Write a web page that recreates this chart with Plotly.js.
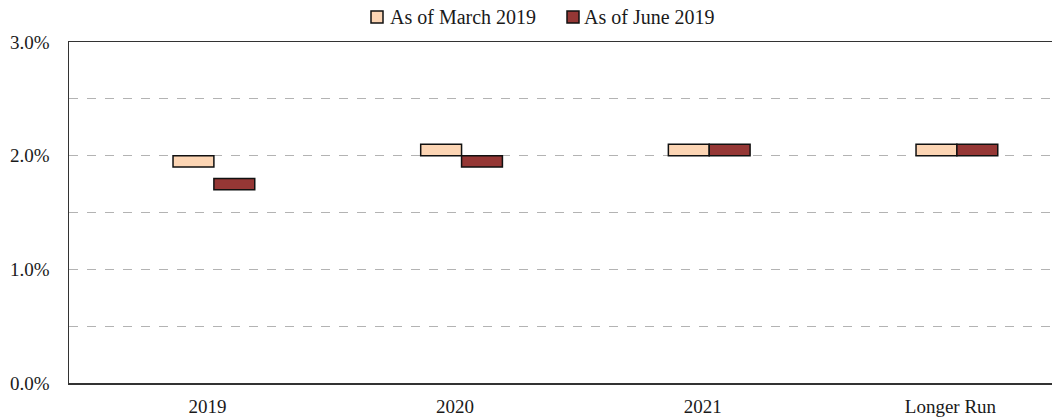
<!DOCTYPE html>
<html>
<head>
<meta charset="utf-8">
<script src="https://cdn.plot.ly/plotly-3.0.1.min.js"></script>
<style>html,body{margin:0;padding:0;overflow:hidden;background:#fff;}</style>
</head>
<body>
<div id="chart" style="width:1052px;height:417px;"></div>
<script>
const categories = ["2019", "2020", "2021", "Longer Run"];
const seriesNames = ["As of March 2019", "As of June 2019"];
const marchLow = [1.9, 2.0, 2.0, 2.0];
const marchHigh = [2.0, 2.1, 2.1, 2.1];
const juneLow = [1.7, 1.9, 2.0, 2.0];
const juneHigh = [1.8, 2.0, 2.1, 2.1];
const yTickVals = [0, 0.5, 1, 1.5, 2, 2.5, 3];
const yTickText = ["0.0%", "", "1.0%", "", "2.0%", "", "3.0%"];

const colors = ["#FCD5B4", "#953735"];
const xIdx = categories.map((c, i) => i);
const fam = "Liberation Serif, Times New Roman, serif";
const tickFont = {family: fam, size: 19, color: "#1a1a1a"};
const legFont = {family: fam, size: 20, color: "#1a1a1a"};

const traces = [
  {type: "bar", name: seriesNames[0], x: xIdx, base: marchLow,
   y: marchHigh.map((h, i) => +(h - marchLow[i]).toFixed(3)),
   marker: {color: colors[0], line: {color: "#111", width: 1.5}}, hoverinfo: "skip"},
  {type: "bar", name: seriesNames[1], x: xIdx, base: juneLow,
   y: juneHigh.map((h, i) => +(h - juneLow[i]).toFixed(3)),
   marker: {color: colors[1], line: {color: "#111", width: 1.5}}, hoverinfo: "skip"}
];

// manual legend (pixel positions converted to paper coords)
const L = 69, W = 983, T = 42, H = 341;
const px = v => (v - L) / W;
const py = v => (T + H - v) / H;
const legItems = [{box: 371, text: 388}, {box: 567, text: 582}];
const shapes = legItems.map((it, i) => ({
  type: "rect", xref: "paper", yref: "paper",
  x0: px(it.box), x1: px(it.box + 12), y0: py(23), y1: py(11),
  fillcolor: colors[i], line: {color: "#111", width: 1.5}
}));
const annotations = legItems.map((it, i) => ({
  xref: "paper", yref: "paper", x: px(it.text), y: py(17), xanchor: "left", yanchor: "middle",
  text: seriesNames[i], showarrow: false, font: legFont
}));

const layout = {
  width: 1052, height: 417,
  margin: {l: 69, r: 0, t: 42, b: 34},
  paper_bgcolor: "#fff", plot_bgcolor: "#fff",
  font: tickFont,
  barmode: "group", bargap: 0.67, bargroupgap: 0,
  showlegend: false,
  shapes: shapes, annotations: annotations,
  xaxis: {range: [-0.585, 3.384], tickvals: xIdx.map(i => i - 0.026), ticktext: categories, showgrid: false,
    zeroline: false, showline: true, mirror: true, linecolor: "#333", linewidth: 1.5,
    ticks: "", tickfont: tickFont, ticklabelstandoff: 6, fixedrange: true},
  yaxis: {range: [0, 3], tickvals: yTickVals, ticktext: yTickText, showgrid: true,
    gridcolor: "#b3b3b3", griddash: "dash", gridwidth: 1, zeroline: false,
    showline: true, linecolor: "#333", linewidth: 1.5, ticks: "",
    tickfont: tickFont, ticklabelstandoff: 14, fixedrange: true}
};

Plotly.newPlot("chart", traces, layout, {displayModeBar: false, staticPlot: true});
</script>
</body>
</html>
